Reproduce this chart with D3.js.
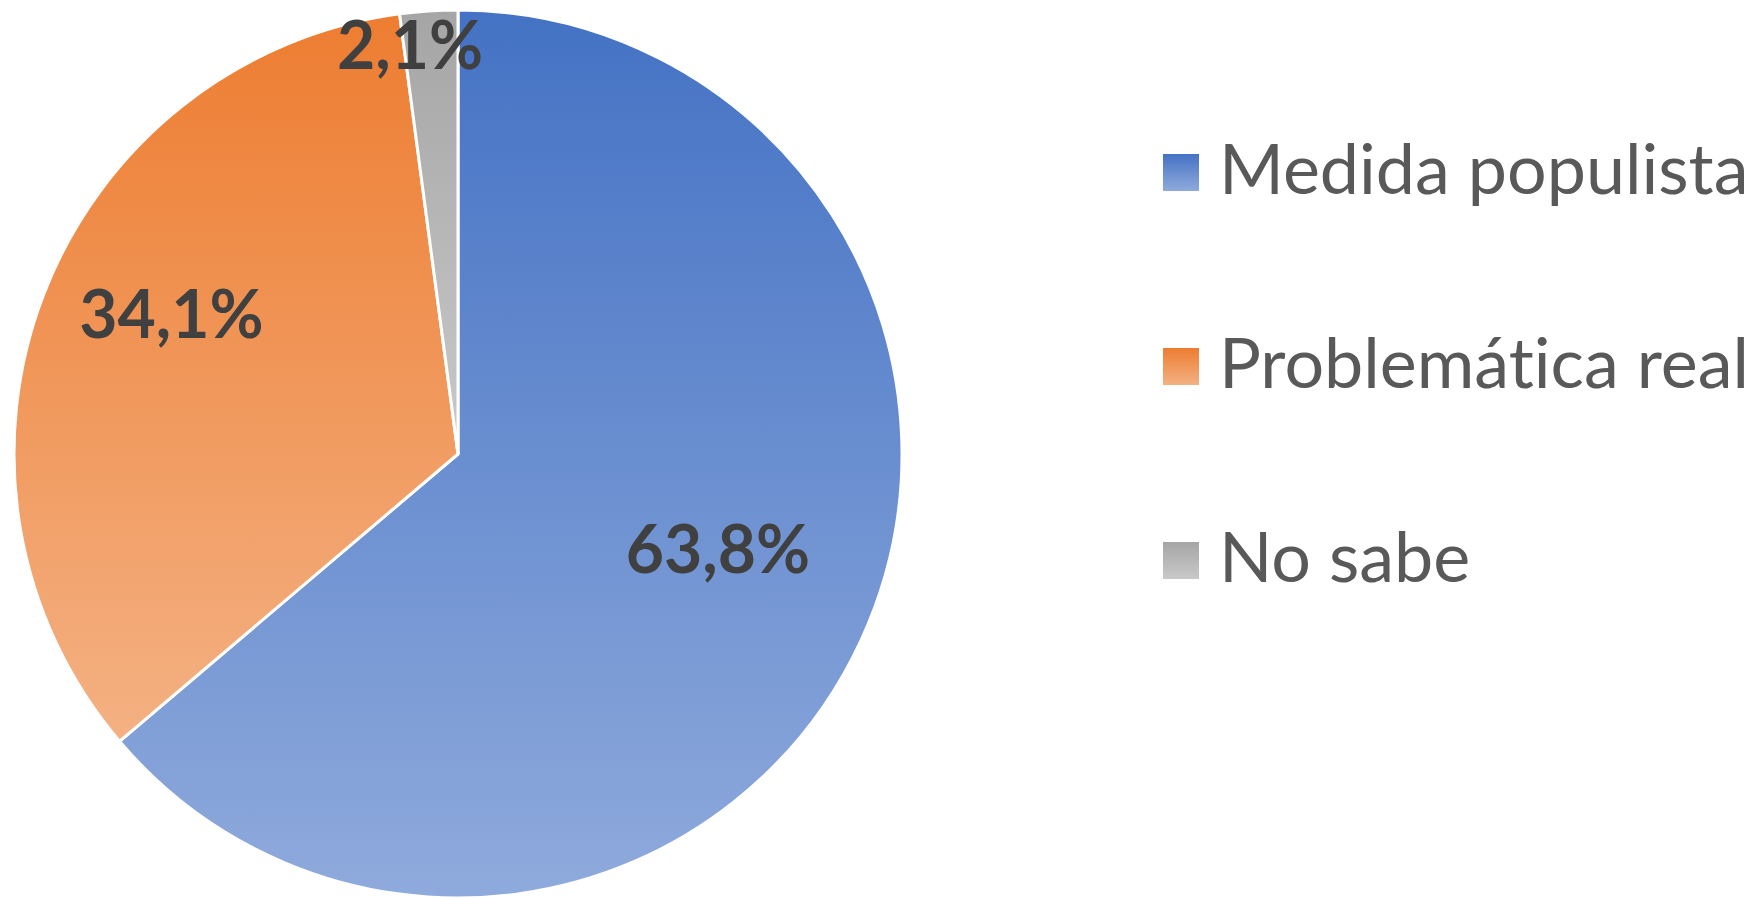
<!DOCTYPE html>
<html>
<head>
<meta charset="utf-8">
<script src="https://cdn.jsdelivr.net/npm/d3@7"></script>
<style>
  html, body { margin: 0; padding: 0; background: #fff; }
  svg { display: block; }
  text { font-variant-ligatures: none; }
</style>
</head>
<body>
<div id="chart"></div>
<script>
// data
const categories = ["Medida populista", "Problemática real", "No sabe"];
const values = [63.8, 34.1, 2.1];
const valueLabels = ["63,8%", "34,1%", "2,1%"];

// colours: top and bottom of each slice's gradient
const topColors = ["#4472C4", "#ED7D31", "#A5A5A5"];
const bottomColors = ["#8FAADC", "#F4B183", "#C9C9C9"];

// label placement (angle shift in degrees from slice middle, radius as share of pie radius)
const labelShift = [-5.1, 5.2, -2.9];
const labelRadius = [0.622, 0.72, 0.93];

const width = 1761, height = 898;
const cx = 458, cy = 454, r = 444;

const svg = d3.select("#chart").append("svg")
  .attr("width", width)
  .attr("height", height);

const defs = svg.append("defs");
categories.forEach((c, i) => {
  let g = defs.append("linearGradient")
    .attr("id", "grad" + i)
    .attr("x1", 0).attr("y1", 0)
    .attr("x2", 0).attr("y2", 1);
  g.append("stop").attr("offset", "0%").attr("stop-color", topColors[i]);
  g.append("stop").attr("offset", "100%").attr("stop-color", bottomColors[i]);
});

const pie = d3.pie().sort(null).value(d => d);
const arcs = pie(values);
const arc = d3.arc().innerRadius(0).outerRadius(r);

const chart = svg.append("g").attr("transform", `translate(${cx},${cy})`);

chart.selectAll("path.slice")
  .data(arcs)
  .enter().append("path")
  .attr("class", "slice")
  .attr("d", arc)
  .attr("fill", (d, i) => `url(#grad${i})`)
  .attr("stroke", "#fff")
  .attr("stroke-width", 3)
  .attr("stroke-linejoin", "round");

// data labels
function labelPos(d, i) {
  let a = (d.startAngle + d.endAngle) / 2 + labelShift[i] * Math.PI / 180;
  return [Math.sin(a) * r * labelRadius[i], -Math.cos(a) * r * labelRadius[i]];
}

chart.selectAll("text.val")
  .data(arcs)
  .enter().append("text")
  .attr("class", "val")
  .attr("x", (d, i) => labelPos(d, i)[0])
  .attr("y", (d, i) => labelPos(d, i)[1])
  .attr("text-anchor", "middle")
  .attr("dominant-baseline", "central")
  .style("font-family", "Lato, 'Open Sans', sans-serif")
  .style("font-weight", "bold")
  .style("font-size", "66px")
  .style("fill", "#404040")
  .text((d, i) => valueLabels[i]);

// legend
const legendY = d3.scalePoint()
  .domain(categories)
  .range([194, 582]);

const legend = svg.append("g").attr("class", "legend");

let item = legend.selectAll("g.item")
  .data(categories)
  .enter().append("g")
  .attr("class", "item")
  .attr("transform", d => `translate(0,${legendY(d)})`);

item.append("rect")
  .attr("x", 1163)
  .attr("y", -40)
  .attr("width", 36)
  .attr("height", 37)
  .attr("fill", (d, i) => `url(#grad${i})`);

item.append("text")
  .attr("x", 1219)
  .attr("y", 0)
  .style("font-family", "Lato, 'Open Sans', sans-serif")
  .style("font-size", "70px")
  .style("fill", "#595959")
  .text(d => d);
</script>
</body>
</html>
